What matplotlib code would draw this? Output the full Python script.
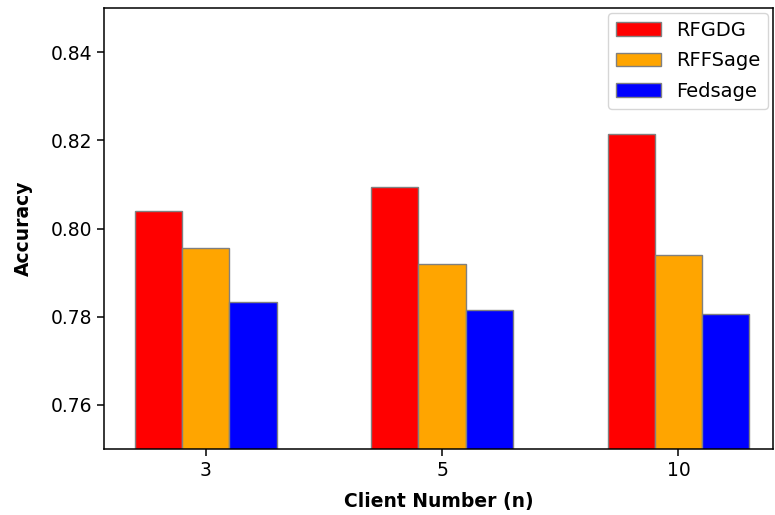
import numpy as np
import matplotlib
matplotlib.use('Agg')
import matplotlib.pyplot as plt

# Data
clients = ['3', '5', '10']
rfgdg = [0.804, 0.8095, 0.8215]
rffsage = [0.7955, 0.792, 0.794]
fedsage = [0.7834, 0.7815, 0.7806]

x = np.arange(len(clients))
width = 0.2

fig = plt.figure(figsize=(7.75, 5.15), dpi=100)
ax = fig.add_axes([104/775, 66/515, 669/775, 441/515])

ax.bar(x - width, rfgdg, width, color='red', edgecolor='grey', linewidth=1, label='RFGDG')
ax.bar(x, rffsage, width, color='orange', edgecolor='grey', linewidth=1, label='RFFSage')
ax.bar(x + width, fedsage, width, color='blue', edgecolor='grey', linewidth=1, label='Fedsage')

ax.set_xlim(-0.43, 2.40)
ax.set_ylim(0.75, 0.85)
ax.set_yticks([0.76, 0.78, 0.80, 0.82, 0.84])
ax.set_xticks(x)
ax.set_xticklabels(clients)
ax.tick_params(labelsize=13.5, length=5, width=1.1)
for s in ax.spines.values():
    s.set_linewidth(1.1)
ax.set_xlabel('Client Number (n)', fontsize=13.5, fontweight='bold', labelpad=9)
ax.set_ylabel('Accuracy', fontsize=13.5, fontweight='bold', labelpad=13)
ax.legend(loc='upper right', fontsize=14, labelspacing=0.6, handlelength=2.3,
          borderaxespad=0.25)

fig.savefig('out.png', dpi=100)
